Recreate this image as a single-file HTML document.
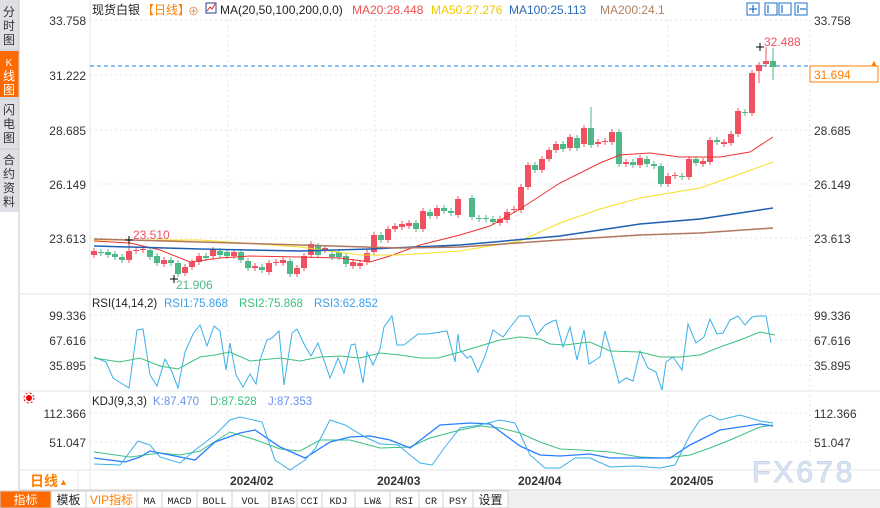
<!DOCTYPE html>
<html><head><meta charset="utf-8"><style>
body{margin:0;width:880px;height:508px;overflow:hidden;background:#fff;font-family:"Liberation Sans","Noto Sans CJK SC",sans-serif;}
svg{position:absolute;left:0;top:0}
</style></head><body>
<svg id="s" width="880" height="508" xmlns="http://www.w3.org/2000/svg" font-family="Liberation Sans, Noto Sans CJK SC, sans-serif">
<rect x="0" y="0" width="19" height="508" fill="#dfe0e6"/>
<rect x="0" y="51" width="19" height="46" fill="#ff6a00"/>
<line x1="0" y1="50" x2="19" y2="50" stroke="#c8c9d0"/>
<line x1="0" y1="99" x2="19" y2="99" stroke="#c8c9d0"/>
<line x1="0" y1="149" x2="19" y2="149" stroke="#c8c9d0"/>
<rect x="0" y="212" width="19" height="296" fill="#fff"/>
<line x1="19" y1="0" x2="19" y2="508" stroke="#c8c9d0"/>
<g font-size="12" fill="#333" text-anchor="middle">
<text x="9" y="16">分</text><text x="9" y="30">时</text><text x="9" y="44">图</text>
<text x="9" y="66" fill="#fff" font-size="10">K</text><text x="9" y="80" fill="#fff">线</text><text x="9" y="94" fill="#fff">图</text>
<text x="9" y="114">闪</text><text x="9" y="128">电</text><text x="9" y="142">图</text>
<text x="9" y="164">合</text><text x="9" y="178">约</text><text x="9" y="192">资</text><text x="9" y="206">料</text>
</g>
<line x1="90" y1="0" x2="90" y2="490" stroke="#e3e6ea"/>
<line x1="810" y1="20" x2="810" y2="470" stroke="#ccc" stroke-dasharray="1,4"/>
<line x1="20" y1="294" x2="880" y2="294" stroke="#e3e6ea"/>
<line x1="20" y1="391" x2="880" y2="391" stroke="#e3e6ea"/>
<line x1="20" y1="470" x2="880" y2="470" stroke="#e3e6ea"/>
<line x1="20" y1="490" x2="880" y2="490" stroke="#d6d6d6"/>
<g stroke="#e6e6e6" stroke-dasharray="2,3">
<line x1="90" y1="20" x2="810" y2="20"/><line x1="90" y1="75" x2="810" y2="75"/><line x1="90" y1="130" x2="810" y2="130"/><line x1="90" y1="184" x2="810" y2="184"/><line x1="90" y1="238" x2="810" y2="238"/>
<line x1="90" y1="315" x2="810" y2="315"/><line x1="90" y1="340" x2="810" y2="340"/><line x1="90" y1="365" x2="810" y2="365"/>
<line x1="90" y1="413" x2="810" y2="413"/><line x1="90" y1="442" x2="810" y2="442"/>
<line x1="228" y1="20" x2="228" y2="470"/><line x1="375" y1="20" x2="375" y2="470"/><line x1="516" y1="20" x2="516" y2="470"/><line x1="668" y1="20" x2="668" y2="470"/>
</g>
<g font-size="12" fill="#333" text-anchor="end">
<text x="86" y="25">33.758</text><text x="86" y="80">31.222</text><text x="86" y="135">28.685</text><text x="86" y="189">26.149</text><text x="86" y="243">23.613</text>
<text x="86" y="320">99.336</text><text x="86" y="345">67.616</text><text x="86" y="370">35.895</text>
<text x="86" y="418">112.366</text><text x="86" y="447">51.047</text>
</g>
<g font-size="12" fill="#333">
<text x="814" y="25">33.758</text><text x="814" y="135">28.685</text><text x="814" y="189">26.149</text><text x="814" y="243">23.613</text>
<text x="814" y="320">99.336</text><text x="814" y="345">67.616</text><text x="814" y="370">35.895</text>
<text x="814" y="418">112.366</text><text x="814" y="447">51.047</text>
</g>
<rect x="810" y="66" width="68" height="16" fill="#fff" stroke="#ff7f00"/>
<text x="814" y="79" font-size="12" fill="#ff7f00">31.694</text>
<text x="874" y="66" font-size="9" fill="#ff7f00" text-anchor="middle">▲</text>
<line x1="90" y1="66" x2="810" y2="66" stroke="#1e7fe6" stroke-dasharray="4,3"/>
<g font-size="12">
<text x="92" y="14" fill="#222">现货白银</text>
<text x="142" y="14" fill="#ff7f00">【日线】</text>
<text x="188" y="15" fill="#e8803a" font-size="11">⊕</text>
<rect x="206" y="3" width="10" height="10" fill="#fff" stroke="#2a3d8f"/><polyline points="207,11 210,7 212,9 215,4" fill="none" stroke="#d22" stroke-width="1"/>
<text x="220" y="14" fill="#222">MA(20,50,100,200,0,0)</text>
<text x="352" y="14" fill="#f05050">MA20:28.448</text>
<text x="431" y="14" fill="#f0c800">MA50:27.276</text>
<text x="509" y="14" fill="#2a6ab8">MA100:25.113</text>
<text x="600" y="14" fill="#b08060">MA200:24.1</text>
</g>
<g fill="#fff" stroke="#1e6fc8">
<rect x="747" y="3" width="12" height="12"/><rect x="765" y="3" width="12" height="12"/><rect x="779" y="3" width="12" height="12"/><rect x="795" y="3" width="12" height="12"/>
</g>
<g stroke="#1e6fc8" stroke-width="1.2"><line x1="753" y1="5" x2="753" y2="13"/><line x1="749" y1="9" x2="757" y2="9"/><line x1="768" y1="5" x2="768" y2="13"/><line x1="782" y1="5" x2="782" y2="13"/><line x1="798" y1="5" x2="798" y2="13"/><line x1="800" y1="9" x2="806" y2="9"/></g>
<g font-size="11.5">
<text x="92" y="307" fill="#222">RSI(14,14,2)</text>
<text x="164" y="307" fill="#3aa0e8">RSI1:75.868</text>
<text x="239" y="307" fill="#3cc080">RSI2:75.868</text>
<text x="314" y="307" fill="#3aa0e8">RSI3:62.852</text>
<text x="92" y="405" fill="#222">KDJ(9,3,3)</text>
<text x="153" y="405" fill="#6a8ff0">K:87.470</text>
<text x="210" y="405" fill="#3cc080">D:87.528</text>
<text x="268" y="405" fill="#6a8ff0">J:87.353</text>
</g>
<circle cx="29" cy="398" r="3" fill="#e00"/><circle cx="29" cy="398" r="5" fill="none" stroke="#e00" stroke-dasharray="2,2"/>
<g id="c"></g>
<g font-size="12" font-weight="bold" fill="#333">
<text x="230" y="485">2024/02</text><text x="377" y="485">2024/03</text><text x="518" y="485">2024/04</text><text x="670" y="485">2024/05</text>
</g>
<text x="30" y="486" font-size="14" fill="#ff7f00" font-weight="bold">日线</text><text x="59" y="485" font-size="9" fill="#ff7f00">▲</text>
<line x1="78" y1="470" x2="78" y2="490" stroke="#e3e6ea"/>
<text x="752" y="482" font-size="30" fill="#dde6f2" stroke="#c8d6ea" letter-spacing="3">FX678</text>
<rect x="0" y="491" width="880" height="17" fill="#f0f0f0"/>
<g id="tb"></g>
</svg>
<script>
var NS="http://www.w3.org/2000/svg",g=document.getElementById('c');
function el(t,a,p){var e=document.createElementNS(NS,t);for(var k in a)e.setAttribute(k,a[k]);(p||g).appendChild(e);return e;}
var C=[[94,'r',251,255],[101,'g',252,253],[108,'g',252,255],[115,'g',254,257],[122,'g',257,260],[129,'r',251,260],[136,'r',250,251],[143,'r',249,250],[150,'g',250,257],[157,'g',256,263],[164,'r',260,264],[171,'g',260,263],[178,'g',263,274],[185,'r',267,273],[192,'r',262,267],[199,'r',256,262],[206,'g',256,258],[213,'r',250,256],[220,'g',251,255],[227,'g',252,256],[234,'r',252,256],[241,'g',252,260],[248,'g',261,268],[255,'r',266,268],[262,'g',267,270],[269,'r',263,272],[276,'r',262,263],[283,'r',260,263],[290,'g',261,274],[297,'r',268,274],[304,'r',256,268],[311,'r',244,255],[318,'g',246,255],[325,'r',248,250],[332,'g',254,257],[339,'g',252,257],[346,'g',256,264],[353,'r',262,266],[360,'r',263,266],[367,'r',253,262],[374,'r',235,252],[381,'g',235,240],[388,'r',229,240],[395,'r',226,229],[402,'r',224,227],[409,'r',223,226],[416,'g',223,229],[423,'r',211,229],[430,'g',212,216],[437,'r',208,216],[444,'g',208,211],[451,'g',211,213],[458,'r',199,215],[465,'g',198,217],[472,'g',218,219],[479,'g',218,219],[486,'g',219,222],[493,'r',219,223],[500,'r',212,220],[507,'r',209,210],[514,'r',187,210],[521,'r',165,187],[528,'g',165,170],[535,'r',159,170],[542,'r',150,159],[549,'r',144,150],[556,'g',144,149],[563,'r',137,148],[570,'g',138,148],[577,'r',128,144],[584,'g',128,145],[591,'r',142,144],[598,'r',141,142],[605,'r',132,142],[612,'g',132,164],[619,'r',162,164],[626,'g',162,165],[633,'r',158,165],[640,'g',159,164],[647,'g',164,166],[654,'g',166,184],[661,'r',176,184],[668,'r',175,176],[675,'g',176,177],[682,'r',159,177],[689,'g',159,163],[696,'r',161,164],[703,'r',140,162],[710,'g',140,142],[717,'r',142,144],[724,'r',134,143],[731,'r',111,134],[738,'g',112,113],[745,'r',73,113],[752,'r',65,71],[759,'r',61,64],[766,'g',61,67]];
var off=7;
C.forEach(function(c,i){var x=c[0]+ (i>=53?7:0);var col=c[1]=='r'?'#f0505f':'#4fb888';
var hi=c[2]-3,lo=c[3]+3;
if(i==5)hi=240;if(i==12)lo=277;if(i==70)hi=107;if(i==95)hi=47;if(i==96){hi=48;lo=80;}if(i==94)lo=83;
el('line',{x1:x,y1:hi,x2:x,y2:lo,stroke:col});
el('rect',{x:x-3,y:c[2],width:6,height:Math.max(1,c[3]-c[2]),fill:col});});
function pl(s,col,w){el('polyline',{points:s,fill:'none',stroke:col,'stroke-width':w||1});}
pl("94,241 130,243 160,250 190,262 220,258 250,256 300,257 340,258 370,262 390,256 420,245 460,235 490,226 520,209 560,183 600,163 620,155 650,153 680,157 720,157 750,152 773,137","#ee3030");
pl("94,240 200,240 300,247 360,255 400,255 460,251 520,241 560,223 600,209 640,198 700,188 740,174 773,162","#f5e020");
pl("94,246 200,249 300,251 370,249 460,245 560,236 640,224 700,219 740,213 773,208","#1e5fb0",1.5);
pl("94,239 200,242 300,245 400,248 460,247 560,240 640,235 700,233 773,228","#b07860",1.5);
el('text',{x:133,y:239,'font-size':12,fill:'#f0505f'}).textContent='23.510';
el('text',{x:176,y:289,'font-size':12,fill:'#4fb888'}).textContent='21.906';
el('text',{x:764,y:46,'font-size':12,fill:'#f0505f'}).textContent='32.488';
pl("125,240 133,240","#000");pl("129,236 129,244","#000");pl("170,279 178,279","#000");pl("174,275 174,283","#000");pl("756,47 764,47","#000");pl("760,43 760,51","#000");
pl("94,357 106,362 113,378 121,383 129,388 137,330 143,329 150,375 157,386 165,359 172,372 178,388 185,352 193,334 200,325 207,346 214,326 220,331 226,370 230,343 236,375 243,387 250,374 256,384 260,360 267,340 272,338 279,331 284,385 292,333 297,329 305,346 311,356 318,343 330,378 338,358 344,373 351,345 355,344 363,383 367,352 373,365 380,349 384,327 392,316 397,345 404,345 418,334 428,334 447,331 455,362 458,334 460,350 467,358 471,356 478,372 485,356 493,330 503,337 512,325 519,316 529,316 537,335 545,325 553,321 556,320 563,347 570,327 577,360 584,330 589,364 600,357 605,331 612,356 619,383 626,378 633,381 640,351 648,368 656,372 662,390 666,362 673,357 682,370 688,324 696,343 704,337 710,319 717,334 723,333 730,320 738,316 745,325 752,317 758,316 766,316 771,343","#3ab0e8");
pl("94,358 120,362 140,358 160,366 178,369 200,357 215,355 230,352 250,361 280,358 300,361 320,357 340,356 360,358 380,353 400,355 420,358 438,358 460,352 480,346 500,340 520,337 540,339 550,344 565,345 590,342 610,351 640,352 660,357 680,357 700,355 720,347 740,340 760,332 775,335","#3cc080");
pl("94,452 130,457 160,453 180,455 200,451 230,432 256,440 280,449 300,451 320,440 350,440 380,448 410,447 430,438 460,430 480,426 500,428 520,433 540,442 560,449 580,450 610,452 640,457 665,458 690,455 710,448 730,440 760,427 773,425","#3cc080");
pl("94,458 125,462 140,457 150,451 170,455 195,460 215,442 240,433 255,430 280,447 305,458 330,442 350,437 370,436 390,440 410,448 440,425 470,423 490,424 520,446 540,455 560,456 590,454 610,458 640,458 670,458 690,445 720,430 760,424 773,426","#2a7fff",1.3);
pl("94,464 120,465 138,441 150,445 160,457 180,463 195,450 215,435 230,420 240,417 262,422 275,460 290,470 305,460 315,449 330,420 345,425 365,437 380,444 398,445 410,455 420,463 432,465 445,447 460,428 480,425 500,420 515,423 530,455 545,468 560,468 575,458 590,458 610,467 635,466 660,468 675,465 690,435 700,420 710,415 720,420 740,415 760,421 773,423","#3ab0e8");
var tb=document.getElementById('tb');
var B=[["指标",0,51],["模板",51,137],["VIP指标",137,162],["MA",162,197],["MACD",197,232],["BOLL",232,269],["VOL",269,297],["BIAS",297,322],["CCI",322,355],["KDJ",355,390],["LW&",390,419],["RSI",419,443],["CR",443,473],["PSY",473,508],["设置",508,543]];
B=[["指标",0,51],["模板",51,86],["VIP指标",86,137],["MA",137,162],["MACD",162,197],["BOLL",197,232],["VOL",232,269],["BIAS",269,297],["CCI",297,322],["KDJ",322,355],["LW&",355,390],["RSI",390,419],["CR",419,443],["PSY",443,473],["设置",473,508]];
B.forEach(function(b,i){el('rect',{x:b[1],y:491,width:b[2]-b[1],height:17,fill:i==0?'#ff6a00':'#fff',stroke:'#d0d0d0'},tb);
var t=el('text',{x:(b[1]+b[2])/2,y:504,'font-size':i<3||i==14?12:10,'text-anchor':'middle',fill:i==0?'#fff':(i==2?'#ff7f00':'#222'),'font-family':i<3||i==14?'Liberation Sans, Noto Sans CJK SC, sans-serif':'Liberation Mono, monospace'},tb);t.textContent=b[0];});
</script>
</body></html>
